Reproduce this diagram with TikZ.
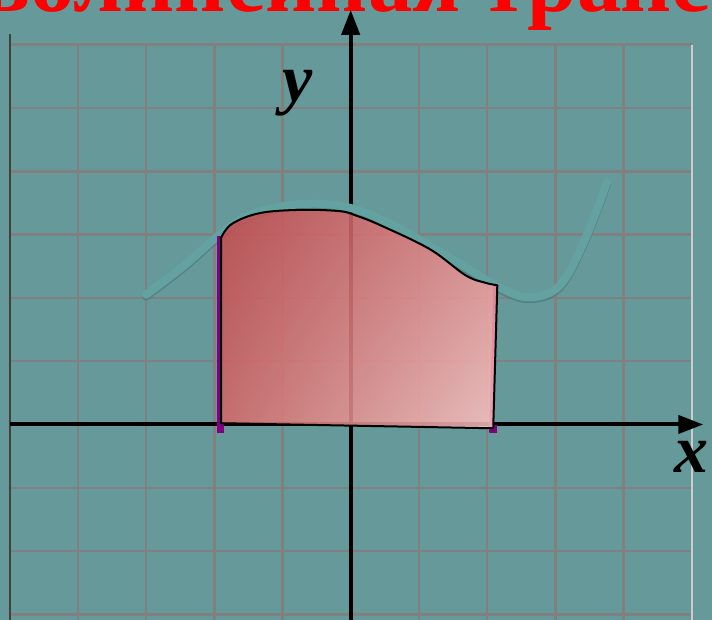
\documentclass[tikz,border=0pt]{standalone}
\usepackage{fontspec}
\setmainfont{Liberation Serif}
\usetikzlibrary{arrows.meta, shadings}
\definecolor{bgteal}{RGB}{102,153,153}
\definecolor{gridgray}{RGB}{128,128,128}
\definecolor{curveteal}{RGB}{100,162,162}
\definecolor{curveshade}{RGB}{74,118,118}
\definecolor{edgepurple}{RGB}{128,0,128}
\definecolor{titlered}{RGB}{255,0,0}
\definecolor{regtl}{RGB}{196,72,76}
\definecolor{regtr}{RGB}{232,138,138}
\definecolor{regbl}{RGB}{214,104,104}
\definecolor{regbr}{RGB}{255,196,196}

\begin{document}
\begin{tikzpicture}[x=68.2pt, y=63.3pt,
    axis/.style={line width=4pt, -{Triangle[length=25pt,width=18pt]}},
    gridline/.style={gridgray, line width=2.5pt},
    edgeline/.style={edgepurple, line width=4pt},
    curveline/.style={line width=8pt, line cap=round}]
  \useasboundingbox (-5.142,-3.088) rectangle (5.298,6.706);
  \clip (-5.142,-3.088) rectangle (5.298,6.706);
  \fill[bgteal] (-5.142,-3.088) rectangle (5.298,6.706);
  % grid
  \foreach \i in {-4,...,4}
    \draw[gridline] (\i,-3.1) -- (\i,6);
  \foreach \j in {-3,...,6}
    \draw[gridline] (-5,\j) -- (5,\j);
  \draw[line width=2pt, black!75] (-5,-3.1) -- (-5,6.17);
  \draw[line width=2pt, black!20] (5,-3.1) -- (5,6);
  % axes
  \coordinate (xstart) at (-5,0);
  \coordinate (xend) at (5.17,0);
  \coordinate (ystart) at (0,-3.1);
  \coordinate (yend) at (0,6.55);
  \draw[axis] (xstart) -- (xend);
  \draw[axis] (ystart) -- (yend);
  \node[anchor=base, inner sep=0, font=\bfseries\itshape\fontsize{68}{70}\selectfont] (xlabel) at (5.0,-0.766) {x};
  \node[anchor=base, inner sep=0, font=\bfseries\itshape\fontsize{68}{70}\selectfont] (ylabel) at (-0.78,5.11) {y};
  % curve
  \draw[curveline, curveshade, opacity=0.6, yshift=-2pt] plot[smooth, tension=0.6] coordinates {(-3.00,2.05) (-2.43,2.52) (-1.91,3.01) (-1.48,3.31) (-0.74,3.48) (0,3.42) (0.72,3.09) (1.60,2.54) (2.19,2.16) (2.63,2.01) (3.07,2.20) (3.43,2.91) (3.76,3.83)};
  \draw[curveline, curveteal] plot[smooth, tension=0.6] coordinates {(-3.00,2.05) (-2.43,2.52) (-1.91,3.01) (-1.48,3.31) (-0.74,3.48) (0,3.42) (0.72,3.09) (1.60,2.54) (2.19,2.16) (2.63,2.01) (3.07,2.20) (3.43,2.91) (3.76,3.83)};
  % trapezoid
  \draw[edgeline] (-1.93,-0.13) -- (-1.93,2.98);
  \draw[edgeline] (2.06,-0.13) -- (2.12,2.2);
  \fill[edgepurple] (-1.96,0.02) rectangle (-1.86,-0.13);
  \fill[edgepurple] (2.04,-0.01) rectangle (2.14,-0.13);
  \shadedraw[upper left=regtl, upper right=regtr, lower left=regbl, lower right=regbr,
    fill opacity=0.85, draw=black, line width=2pt, line join=round]
    (-1.90,0.02) -- plot[smooth, tension=0.6] coordinates {(-1.90,2.95) (-1.74,3.17) (-1.33,3.34) (-0.74,3.39) (-0.16,3.37) (0.08,3.30) (0.43,3.15) (1.16,2.77) (1.68,2.36) (1.97,2.24) (2.15,2.20)}
    -- (2.09,-0.06) -- cycle;
  % title
  \node[anchor=base west, inner sep=0, text=titlered, font=\bfseries\fontsize{89}{92}\selectfont] (title) at (-7.82,6.517) {Криволинейная трапеция};
\end{tikzpicture}
\end{document}
